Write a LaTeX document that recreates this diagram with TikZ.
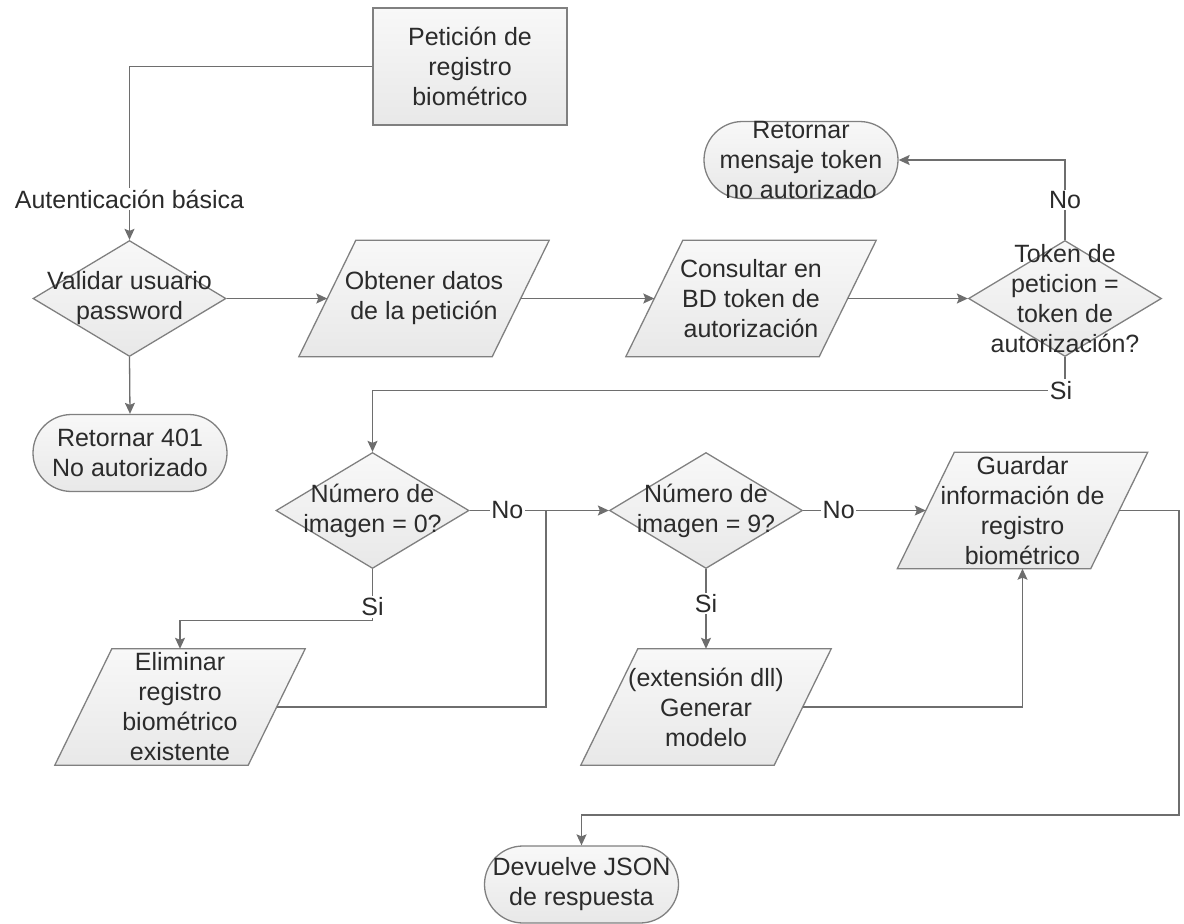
\documentclass[tikz,border=0pt]{standalone}
\usepackage{fontspec}
\setmainfont{Liberation Sans}
\usetikzlibrary{shapes.geometric,arrows.meta,backgrounds}

\definecolor{linec}{HTML}{6E6E6E}
\definecolor{edgec}{HTML}{808080}
\definecolor{textc}{HTML}{2B2B2B}
\definecolor{filltop}{HTML}{F8F8F8}
\definecolor{fillbot}{HTML}{E8E8E8}

\begin{document}
\begin{tikzpicture}[x=1pt,y=-1pt,
  every node/.style={font=\fontsize{25}{30}\selectfont, text=textc},
  shapefill/.style={draw=edgec, line width=1.3pt, top color=filltop, bottom color=fillbot},
  txt/.style={label={[align=center, inner sep=0pt]center:{#1}}},
  procbox/.style={shapefill, rectangle, minimum width=194pt, minimum height=117pt, inner sep=0pt},
  decision/.style={shapefill, diamond, minimum width=193pt, minimum height=116pt, inner sep=0pt},
  terminal/.style={shapefill, rectangle, rounded corners=38.5pt, minimum width=194pt, minimum height=77pt, inner sep=0pt},
  iobox/.style={rectangle, minimum width=193pt, minimum height=116pt, inner sep=0pt},
  conn/.style={draw=linec, line width=1.3pt},
  arr/.style={conn, -{Stealth[length=11pt,width=10pt,inset=2pt]}},
  lbl/.style={fill=white, inner sep=1.5pt},
]
\useasboundingbox (0,0) rectangle (1184,924);

% process, decision and terminal shapes
\node[procbox, txt={Petición de\\registro\\biométrico}] (pet) at (470,66.5) {};
\node[decision, txt={Validar usuario\\password}] (val) at (129.5,298.5) {};
\node[terminal, txt={Retornar 401\\No autorizado}] (r401) at (130,453) {};
\node[iobox, txt={Obtener datos\\de la petición}] (obt) at (424,298.5) {};
\node[iobox, txt={Consultar en\\BD token de\\autorización}] (con) at (751,298.5) {};
\node[decision, txt={Token de\\peticion =\\token de\\autorización?}] (tok) at (1065,298.5) {};
\node[terminal, txt={Retornar\\mensaje token\\no autorizado}] (msg) at (801,160) {};
\node[decision, txt={Número de\\imagen = 0?}] (n0) at (372.5,510.5) {};
\node[decision, txt={Número de\\imagen = 9?}] (n9) at (706,510.5) {};
\node[iobox, txt={Guardar\\información de\\registro\\biométrico}] (gua) at (1022.5,510.5) {};
\node[iobox, txt={Eliminar\\registro\\biométrico\\existente}] (eli) at (180,707) {};
\node[iobox, txt={(extensión dll)\\Generar\\modelo}] (ext) at (706,707) {};
\node[terminal, txt={Devuelve JSON\\de respuesta}] (dev) at (581.5,884.5) {};

% data (parallelogram) outlines behind their texts
\begin{scope}[on background layer]
  \foreach \n in {obt,con,eli,ext,gua}
    \path[shapefill] ([xshift=-28.5pt]\n.south west) -- ([xshift=28.5pt]\n.north west)
      -- ([xshift=28.5pt]\n.north east) -- ([xshift=-28.5pt]\n.south east) -- cycle;
\end{scope}

% connectors
\coordinate (j1) at (546,510.5);
\coordinate (r1) at (1179,815);

\draw[arr] (pet.west) -| (val.north) node[lbl, pos=0.883] {Autenticación básica};
\draw[arr] (val.south) -- (r401.north);
\draw[arr] (val.east) -- (obt.west);
\draw[arr] (obt.east) -- (con.west);
\draw[arr] (con.east) -- (tok.west);
\draw[arr] (tok.north) |- (msg.east) node[lbl, pos=0.25] {No};
\draw[arr] (tok.south) -- ++(0,33) node[lbl, xshift=-4pt] {Si} -| (n0.north);
\draw[arr] (n0.east) -- node[lbl, pos=0.27] {No} (n9.west);
\draw[conn] (eli.east) -| (j1);
\draw[arr] (n0.south) -- node[lbl, pos=0.74] {Si} ++(0,51) -| (eli.north);
\draw[arr] (n9.south) -- node[lbl, pos=0.43] {Si} (ext.north);
\draw[arr] (n9.east) -- node[lbl, pos=0.29] {No} (gua.west);
\draw[arr] (ext.east) -| (gua.south);
\draw[arr] (gua.east) -| (r1) -| (dev.north);
\end{tikzpicture}
\end{document}
